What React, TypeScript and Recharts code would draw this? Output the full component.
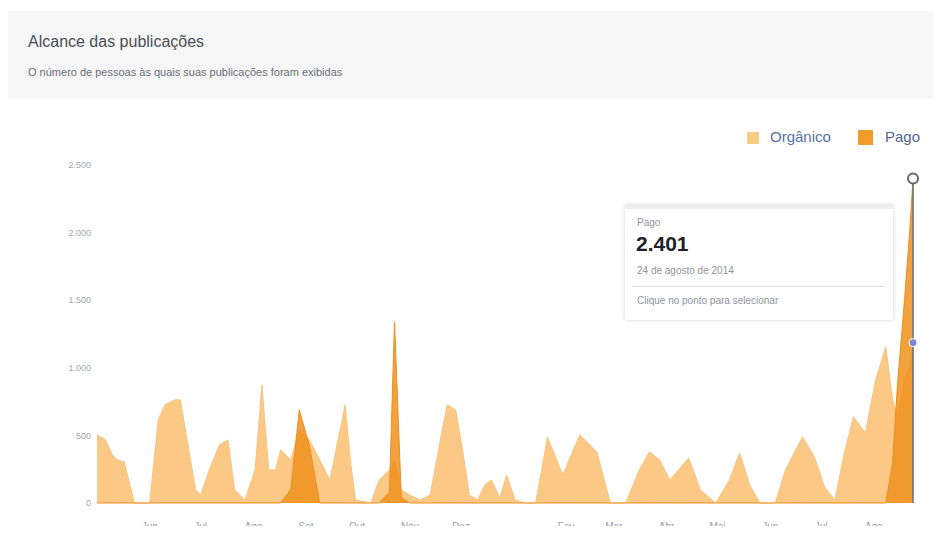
import React from "react";
import { AreaChart, Area, XAxis, YAxis, ReferenceDot, ReferenceLine } from "recharts";

// Days since 1 May 2013
const dias = [0,5,9,12,16,22,31,36,40,46,49,52,58,61,66,72,77,81,87,93,97,101,105,108,114,119,125,131,137,143,146,149,152,161,166,172,175,179,184,190,196,202,206,211,215,219,224,228,232,237,241,246,252,258,265,274,284,294,302,311,319,325,331,337,348,355,364,372,378,384,390,399,405,408,415,422,428,434,440,445,452,458,464,468,471,475,478,480];
const organico = [504,467,356,319,304,0,0,615,726,763,763,541,96,59,245,430,467,96,22,245,874,245,245,393,319,541,467,319,170,541,726,319,22,0,170,245,319,96,59,22,59,467,726,689,393,59,22,133,170,37,207,22,0,0,489,207,504,378,0,0,245,378,319,170,333,96,0,170,370,133,0,0,245,319,489,341,119,22,393,637,519,911,1156,763,640,911,1000,1186];
const pago = [0,0,0,0,0,0,0,0,0,0,0,0,0,0,0,0,0,0,0,0,0,0,0,0,100,690,420,0,0,0,0,0,0,0,0,80,1340,40,0,0,0,0,0,0,0,0,0,0,0,0,0,0,0,0,0,0,0,0,0,0,0,0,0,0,0,0,0,0,0,0,0,0,0,0,0,0,0,0,0,0,0,0,0,300,900,1500,2000,2401];

const mesesDias = [31,61,92,123,153,184,214,245,276,304,335,365,396,426,457];
const mesesRotulos = ["Jun","Jul","Ago","Set","Out","Nov","Dez","","Fev","Mar","Abr","Mai","Jun","Jul","Ago"];
const yTicks = [0,500,1000,1500,2000,2500];
const yRotulos = ["0","500","1.000","1.500","2.000","2.500"];

const data = dias.map((d, i) => ({ d, organico: organico[i], pago: pago[i] }));

const FONT = "'Liberation Sans', Arial, Helvetica, sans-serif";

export default function App() {
  return (
    <div style={{ position: "relative", width: 925, height: 518, fontFamily: FONT }}>
      <div style={{ position: "absolute", left: 0, top: 3, width: 925, height: 88, background: "#f6f6f7" }}>
        <div style={{ position: "absolute", left: 20, top: 22, fontSize: 16, color: "#4b4f56" }}>Alcance das publicações</div>
        <div style={{ position: "absolute", left: 20, top: 55, fontSize: 11, color: "#6a6f78" }}>
          O número de pessoas às quais suas publicações foram exibidas
        </div>
      </div>

      <span style={{ position: "absolute", left: 739, top: 124, width: 12, height: 12, background: "#f6cc7e" }} />
      <span style={{ position: "absolute", left: 762, top: 120, fontSize: 15, color: "#5a72a8" }}>Orgânico</span>
      <span style={{ position: "absolute", left: 850, top: 122, width: 15, height: 15, background: "#f39a2b" }} />
      <span style={{ position: "absolute", left: 877, top: 120, fontSize: 15, color: "#51698f" }}>Pago</span>

      <div style={{ position: "absolute", left: 0, top: 92 }}>
        <AreaChart width={925} height={433} data={data} margin={{ top: 65, right: 20, bottom: 0, left: 0 }}>
          <XAxis
            dataKey="d"
            type="number"
            domain={[0, 480]}
            ticks={mesesDias}
            tickFormatter={(v: number) => mesesRotulos[mesesDias.indexOf(v)] ?? ""}
            tickLine={false}
            axisLine={false}
            tickMargin={14}
            height={30}
            interval={0}
            tick={{ fontSize: 10, fill: "#9a9ea6", fontFamily: FONT }}
          />
          <YAxis
            type="number"
            domain={[0, 2500]}
            ticks={yTicks}
            tickFormatter={(v: number) => yRotulos[yTicks.indexOf(v)] ?? ""}
            tickLine={false}
            axisLine={false}
            width={89}
            tickMargin={0}
            tick={{ fontSize: 9, fill: "#a4a8ae", fontFamily: FONT }}
          />
          <Area
            type="linear"
            dataKey="organico"
            stroke="#f8c47e"
            strokeWidth={1}
            fill="#fcc886"
            fillOpacity={1}
            isAnimationActive={false}
          />
          <Area
            type="linear"
            dataKey="pago"
            stroke="#ef8e1c"
            strokeWidth={1}
            fill="#f0901d"
            fillOpacity={0.85}
            isAnimationActive={false}
          />
          <ReferenceLine segment={[{ x: 480, y: 0 }, { x: 480, y: 2401 }]} stroke="#6b6b6b" strokeWidth={1.5} />
          <ReferenceDot x={480} y={organico[organico.length - 1]} r={4} fill="#7b86d6" stroke="#ffffff" strokeWidth={1} />
          <ReferenceDot x={480} y={pago[pago.length - 1]} r={5} fill="#ffffff" stroke="#666666" strokeWidth={2} />
        </AreaChart>
      </div>

      <div
        style={{
          position: "absolute",
          left: 617,
          top: 197,
          width: 268,
          height: 115,
          background: "#ffffff",
          boxShadow: "0 0 4px rgba(0,0,0,0.18)",
          borderTop: "4px solid #eeeeee",
          boxSizing: "border-box",
        }}
      >
        <div style={{ position: "absolute", left: 12, top: 8, fontSize: 10, color: "#90949c" }}>Pago</div>
        <div style={{ position: "absolute", left: 11, top: 23, fontSize: 21, fontWeight: "bold", color: "#1d2129" }}>2.401</div>
        <div style={{ position: "absolute", left: 12, top: 56, fontSize: 10, color: "#90949c" }}>24 de agosto de 2014</div>
        <div style={{ position: "absolute", left: 8, right: 8, top: 77, height: 1, background: "#dddfe2" }} />
        <div style={{ position: "absolute", left: 12, top: 86, fontSize: 10, color: "#90949c" }}>Clique no ponto para selecionar</div>
      </div>
    </div>
  );
}
